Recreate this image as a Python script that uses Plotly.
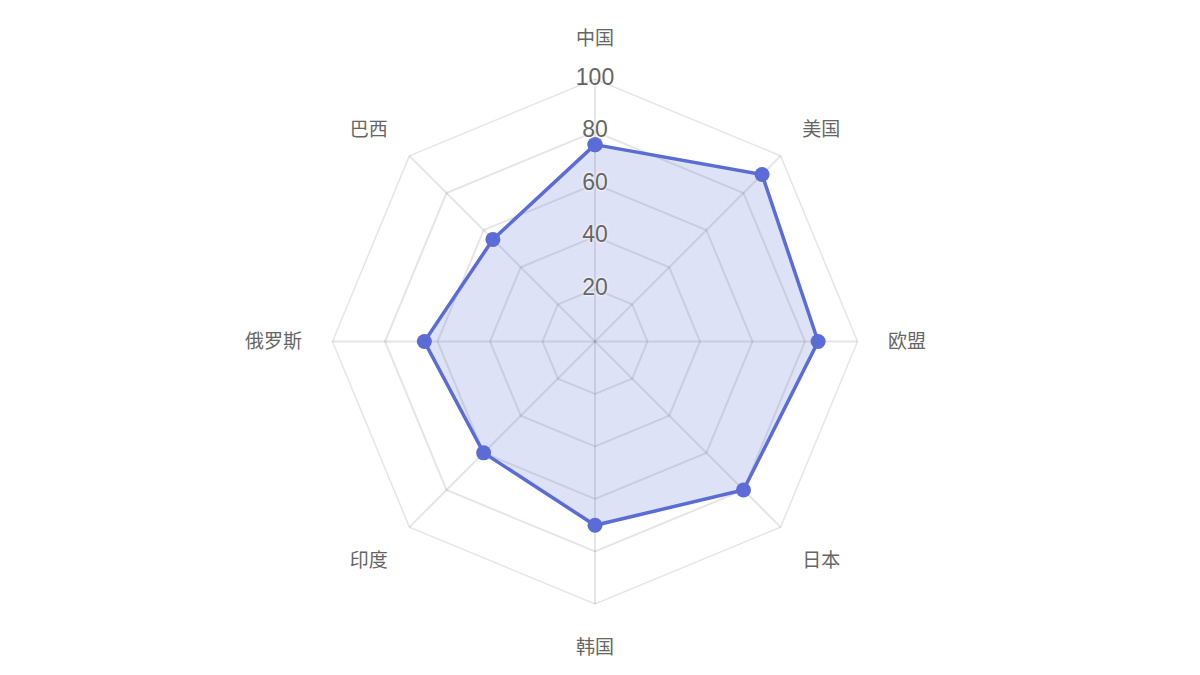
import plotly.graph_objects as go

# categories clockwise from the top
countries = ["中国", "美国", "欧盟", "日本", "韩国", "印度", "俄罗斯", "巴西"]
scores = [75, 90, 85, 80, 70, 60, 65, 55]
tick_vals = [20, 40, 60, 80, 100]

line_color = "rgb(91,108,214)"
grid_color = "rgba(0,0,0,0.1)"

fig = go.Figure()

# closed polygon
fig.add_trace(go.Scatterpolar(
    r=scores + scores[:1],
    theta=countries + countries[:1],
    mode="lines+markers",
    fill="toself",
    fillcolor="rgba(91,108,214,0.2)",
    line=dict(color=line_color, width=3.5),
    marker=dict(size=15, color=line_color),
    hoverinfo="skip",
))

# radial tick labels centred on the top spoke, light halo like a backdrop
fig.add_trace(go.Scatterpolar(
    r=tick_vals,
    theta=[countries[0]] * len(tick_vals),
    mode="text",
    text=[str(v) for v in tick_vals],
    textposition="middle center",
    textfont=dict(
        family="Liberation Sans, Arial, sans-serif",
        size=23,
        color="#666666",
        shadow="0 0 3px rgba(255,255,255,0.8), 0 0 3px rgba(255,255,255,0.8)",
    ),
    hoverinfo="skip",
))

fig.update_layout(
    width=1200,
    height=675,
    showlegend=False,
    paper_bgcolor="white",
    font=dict(family="Noto Sans CJK SC, Noto Sans, sans-serif", color="#666666"),
    margin=dict(l=0, r=26, t=71, b=79),
    polar=dict(
        bgcolor="white",
        gridshape="linear",
        radialaxis=dict(
            range=[0, 100],
            tickvals=tick_vals,
            showticklabels=False,
            ticks="",
            showline=False,
            gridcolor=grid_color,
            gridwidth=1.5,
            angle=90,
            layer="above traces",
        ),
        angularaxis=dict(
            direction="clockwise",
            rotation=90,
            categoryorder="array",
            categoryarray=countries,
            ticks="outside",
            ticklen=26,
            tickcolor="rgba(0,0,0,0)",
            tickfont=dict(size=19, color="#666666"),
            showline=True,
            linecolor=grid_color,
            linewidth=1.5,
            gridcolor=grid_color,
            gridwidth=1.5,
            layer="above traces",
        ),
    ),
)

fig.write_html("out.html")
